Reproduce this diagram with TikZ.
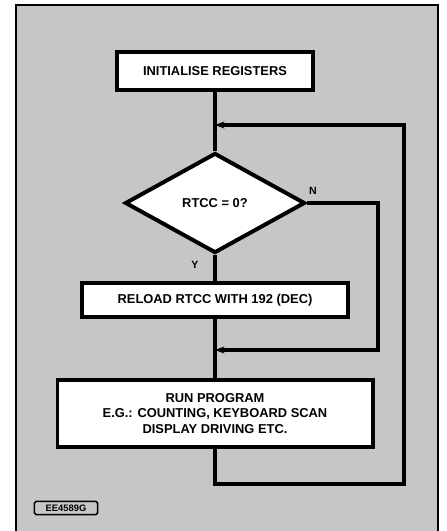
\documentclass[tikz,border=0pt]{standalone}
\usepackage{fontspec}
\setmainfont{Liberation Sans}
\usepackage{tikz}
\usetikzlibrary{shapes.geometric,arrows.meta,positioning}
\definecolor{paper}{RGB}{198,198,198}
\tikzset{
procbox/.style={rectangle,draw=black,line width=3.4pt,fill=white,align=center,
  font=\fontsize{11}{13.6}\selectfont\bfseries,inner sep=0pt},
decbox/.style={diamond,draw=black,line width=3.4pt,fill=white,inner sep=0pt,
  minimum width=5.4cm,minimum height=3cm,font=\fontsize{11}{13}\selectfont\bfseries},
flowline/.style={line width=2.6pt},
flowarr/.style={line width=2.6pt,-{Stealth[length=8pt,width=6pt]}},
branchlbl/.style={font=\fontsize{9}{10}\selectfont\bfseries},
tagbox/.style={rectangle,draw=black,line width=1.4pt,rounded corners=1.5pt,fill=paper,
  minimum width=1.9cm,minimum height=0.4cm,inner sep=0pt,font=\fontsize{8}{8}\selectfont\bfseries}
}
\begin{document}
\begin{tikzpicture}[x=0.03cm,y=-0.03cm]
\useasboundingbox (0,0) rectangle (446,531);
\fill[paper] (16,5) rectangle (438,531);
\draw[line width=1.2pt] (16,531) -- (16,5) -- (438,5) -- (438,531);

\node[procbox,minimum width=5.88cm,minimum height=1.14cm] (init) at (215,71) {INITIALISE REGISTERS};
\node[decbox] (test) at (215,203) {RTCC = 0?};
\node[procbox,minimum width=8.0cm,minimum height=1.02cm] (reload) at (215,300) {RELOAD RTCC WITH 192 (DEC)};
\node[procbox,minimum width=9.45cm,minimum height=2.0cm] (run) at (215,413.5) {RUN PROGRAM\\E.G.: COUNTING, KEYBOARD SCAN\\DISPLAY DRIVING ETC.};

\node[branchlbl] (nlbl) at (313,191) {N};
\node[branchlbl] (ylbl) at (195,265) {Y};
\node[tagbox] (tag) at (66,508) {EE4589G};

\coordinate (join1) at (215,125);
\coordinate (join2) at (215,350);
\coordinate (ncorner) at (378,350);
\coordinate (lpbot) at (404,484);
\coordinate (lptop) at (404,125);

\draw[flowline] (init) -- (test);
\draw[flowline] (test) -- (reload);
\draw[flowline] (reload) -- (run);
\draw[flowarr] (test.east) -| (ncorner) -- (join2);
\draw[flowarr] (run.south) |- (lpbot) -- (lptop) -- (join1);
\end{tikzpicture}
\end{document}
